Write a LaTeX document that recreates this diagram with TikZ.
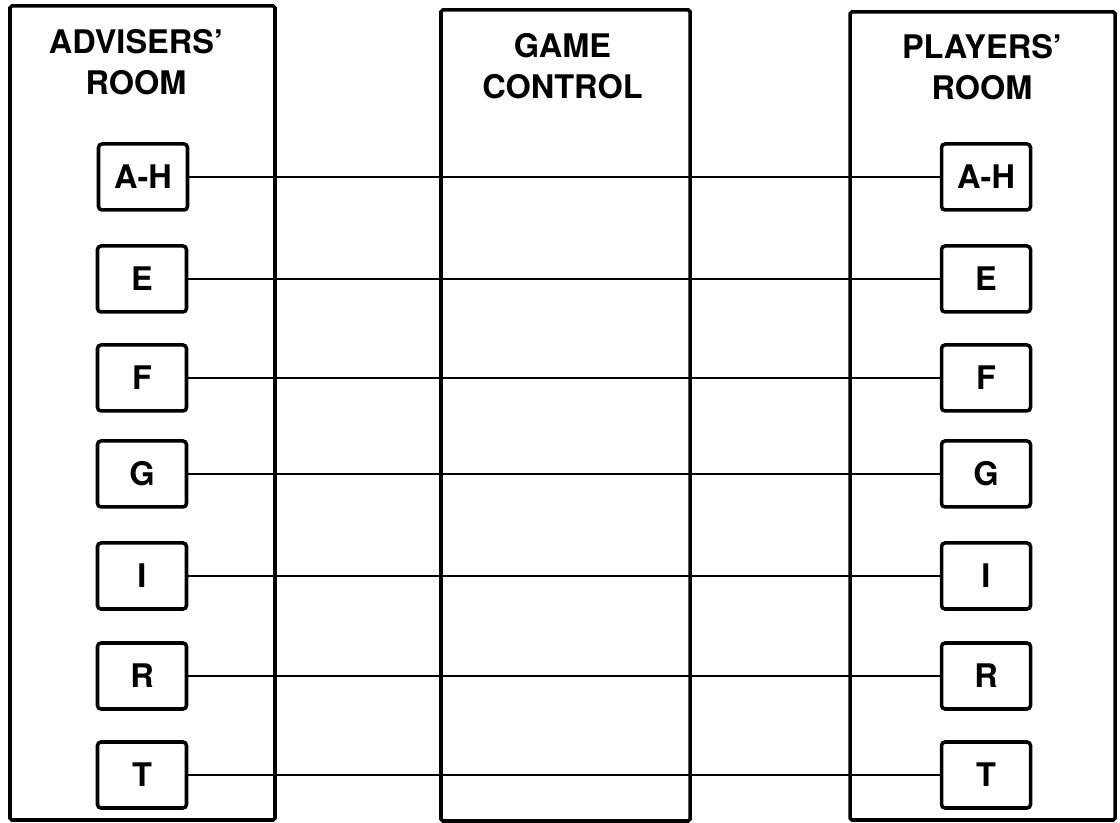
\documentclass[tikz,border=0pt]{standalone}
\usepackage{fontspec}
\setmainfont{TeX Gyre Heros}

\tikzset{
  room/.style={draw, line width=2pt, rounded corners=1pt, inner sep=0pt},
  roomtitle/.style={align=center, font=\fontsize{18.5}{23.5}\selectfont\bfseries},
  desk/.style={draw, line width=2pt, rounded corners=2pt, minimum width=1.78cm, minimum height=1.32cm, inner sep=0pt, font=\fontsize{18.5}{20}\selectfont\bfseries},
  link/.style={line width=1.2pt}
}

\begin{document}
\begin{tikzpicture}
      \useasboundingbox (0,0) rectangle (22.4,16.46);

      % Rooms
      \node[room, minimum width=5.3cm, minimum height=16.28cm] (advroom) at (2.85,8.2) {};
      \node[room, minimum width=4.98cm, minimum height=16.22cm] (ctrlroom) at (11.31,8.15) {};
      \node[room, minimum width=5.3cm, minimum height=16.16cm] (playroom) at (19.65,8.14) {};

      \node[roomtitle] (advtitle) at (2.72,15.22) {ADVISERS'\\ROOM};
      \node[roomtitle] (ctrltitle) at (11.25,15.14) {GAME\\CONTROL};
      \node[roomtitle] (playtitle) at (19.64,15.12) {PLAYERS'\\ROOM};

      % Advisers' desks
      \node[desk] (advAH) at (2.86,12.92) {A-H};
      \node[desk] (advE) at (2.84,10.88) {E};
      \node[desk] (advF) at (2.84,8.9) {F};
      \node[desk] (advG) at (2.84,6.98) {G};
      \node[desk] (advI) at (2.84,4.94) {I};
      \node[desk] (advR) at (2.84,2.94) {R};
      \node[desk] (advT) at (2.84,0.96) {T};

      % Players' desks
      \node[desk] (playAH) at (19.72,12.92) {A-H};
      \node[desk] (playE) at (19.72,10.88) {E};
      \node[desk] (playF) at (19.72,8.9) {F};
      \node[desk] (playG) at (19.72,6.98) {G};
      \node[desk] (playI) at (19.72,4.94) {I};
      \node[desk] (playR) at (19.72,2.94) {R};
      \node[desk] (playT) at (19.72,0.96) {T};

      % Lines between the rooms
      \draw[link] (advAH) -- (playAH);
      \draw[link] (advE) -- (playE);
      \draw[link] (advF) -- (playF);
      \draw[link] (advG) -- (playG);
      \draw[link] (advI) -- (playI);
      \draw[link] (advR) -- (playR);
      \draw[link] (advT) -- (playT);

\end{tikzpicture}
\end{document}
